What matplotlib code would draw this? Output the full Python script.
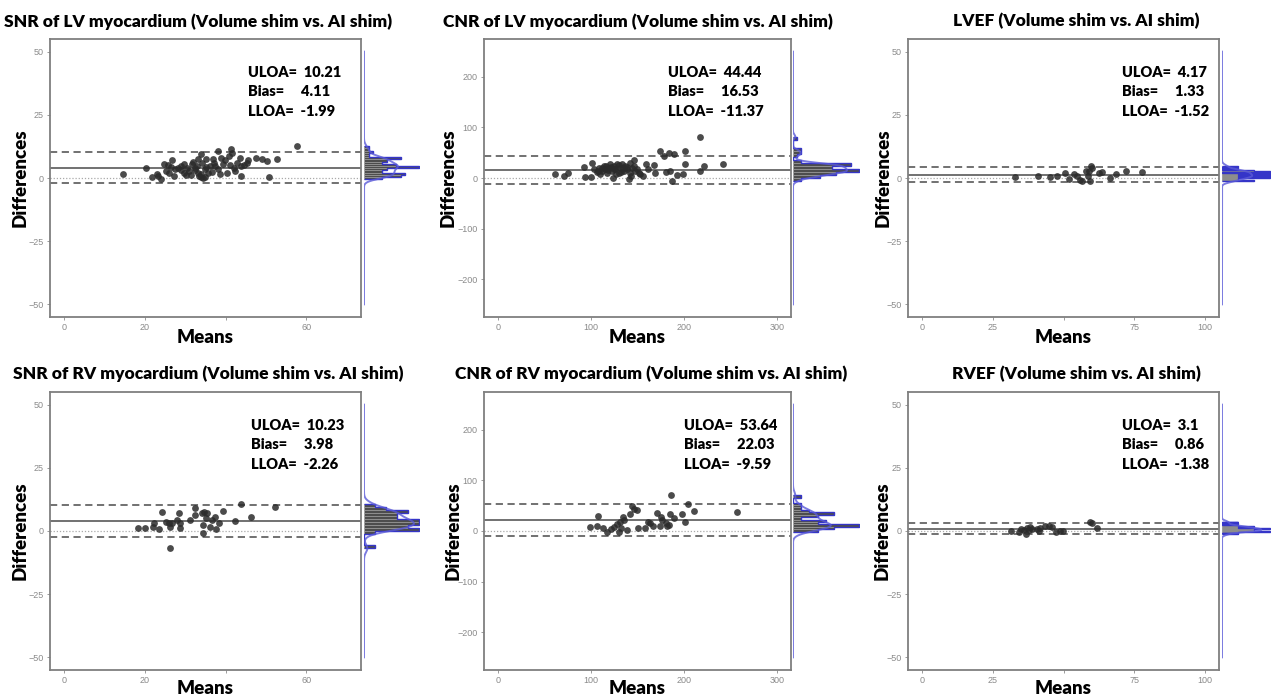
import numpy as np
import matplotlib.pyplot as plt

# ---- data (means, differences) ----
snr_lv_means = [14.5, 20.2, 21.8, 23.1, 23.3, 23.9, 24.8, 25.3, 25.8, 26.8, 26.0, 27.3, 28.1, 28.9,
                29.6, 30.2, 31.0, 31.6, 32.3, 33.0, 33.1, 33.5, 33.9, 34.2, 34.5, 34.9, 35.2, 35.6,
                36.0, 36.8, 37.3, 38.1, 38.5, 38.9, 39.3, 40.2, 40.8, 41.4, 41.5, 42.1, 42.3, 42.7,
                43.5, 43.8, 43.9, 45.2, 45.6, 47.4, 48.9, 50.2, 50.8, 52.7, 57.7,
                29.0, 30.5, 31.5, 32.5, 33.8, 34.0, 34.8, 35.0, 36.5, 37.0, 29.8, 27.5, 26.5, 32.0,
                33.2, 38.0, 39.8, 41.0, 44.5]
snr_lv_diffs = [1.4, 4.1, 0.2, 1.5, 0.8, -0.5, 5.6, 2.8, 5.1, 7.0, 2.1, 0.8, 4.1, 4.7,
                2.1, 1.2, 2.8, 5.4, 4.1, 4.7, 2.1, 0.8, 9.4, 6.1, 0.1, 3.4, 7.4, 2.1,
                4.7, 7.6, 4.7, 10.7, 1.7, 8.0, 5.4, 2.0, 8.7, 11.3, 10.0, 4.1, 2.8, 6.1,
                8.0, 0.8, 4.7, 5.8, 7.1, 7.9, 7.6, 6.6, 0.4, 7.6, 12.6,
                3.0, 4.0, 1.0, 3.0, 1.5, 0.2, 0.5, 4.5, 2.5, 6.0, 5.5, 3.5, 4.5, 6.5,
                7.5, 3.5, 7.2, 5.2, 5.0]

cnr_lv_means = [60.9, 70.6, 75.3, 92.8, 93.9, 100.4, 101.0, 103.6, 106.5, 108.2, 110.0, 111.8,
                113.6, 115.4, 117.2, 119.0, 120.8, 122.6, 123.7, 124.4, 126.2, 128.0, 129.7,
                131.5, 133.3, 135.1, 136.9, 138.7, 140.5, 141.6, 142.3, 144.1, 145.9, 147.7,
                149.5, 151.3, 153.0, 155.9, 159.5, 161.3, 167.4, 169.2, 173.8, 178.1, 181.0,
                183.5, 184.6, 187.1, 188.9, 192.5, 198.9, 200.7, 201.4, 216.8, 217.6, 221.1,
                241.9, 112.0, 118.0, 121.0, 125.0, 127.0, 130.0, 134.0, 139.0, 143.0, 146.0,
                132.0, 116.0, 108.0]
cnr_lv_diffs = [7.3, 4.0, 9.2, 21.8, 2.0, 2.0, 30.4, 17.2, 11.9, 20.5, 7.3, 13.9,
                23.8, 17.2, 10.6, 20.5, 27.1, 13.9, 0.7, 23.8, 17.2, 27.1, 10.6,
                20.5, 27.1, 13.9, 23.8, 17.2, -2.6, 29.0, 10.6, 20.5, 35.0, 13.9,
                17.2, 10.6, 7.3, 4.0, 28.4, 17.2, 25.7, 10.6, 53.5, 43.6, 11.9,
                48.8, 13.9, -5.9, 46.9, 5.3, 7.3, 28.4, 53.5, 81.8, 13.9, 23.8,
                28.4, 20.0, 15.0, 22.0, 18.0, 8.0, 25.0, 19.0, 22.0, 3.0, 24.0,
                12.0, 24.0, 14.0]

lvef_means = [32.9, 40.9, 45.2, 47.8, 50.7, 51.9, 53.8, 54.8, 55.9, 56.4, 57.8, 58.7, 59.3,
              59.6, 60.0, 59.0, 62.4, 63.5, 66.5, 68.4, 72.0, 77.8]
lvef_diffs = [0.3, 0.9, 0.3, 0.9, 1.9, -0.4, 1.6, 0.6, -0.7, -1.2, 2.6, 0.8, -1.2,
              4.7, 3.8, 2.9, 1.8, 2.5, 0.1, 1.4, 2.8, 2.4]

snr_rv_means = [18.4, 19.9, 22.0, 22.3, 23.6, 24.2, 25.3, 25.9, 26.3, 26.3, 26.8, 27.9, 28.5,
                28.6, 28.7, 31.2, 32.3, 32.5, 34.1, 34.3, 34.4, 34.7, 35.2, 35.4, 36.2, 36.6,
                37.4, 37.7, 38.4, 39.3, 42.4, 43.8, 46.3, 52.2]
snr_rv_diffs = [1.1, 1.1, 1.7, 3.3, 0.8, 7.4, 3.7, 3.0, -6.9, 1.7, 3.3, 4.4, 7.0,
                1.1, 3.0, 4.4, 9.0, 6.3, 7.0, 2.4, -0.7, 7.7, 5.0, 7.3, 1.7, 4.4,
                5.7, 0.8, 3.0, 8.1, 4.1, 10.7, 5.6, 9.4]

cnr_rv_means = [98.5, 106.7, 107.8, 113.2, 117.5, 121.8, 124.7, 127.6, 130.0, 130.8, 132.6,
                134.4, 135.5, 138.3, 141.6, 143.7, 146.2, 149.8, 150.6, 157.7, 161.7, 163.5,
                167.1, 170.7, 174.3, 175.7, 176.8, 180.4, 181.5, 184.0, 185.1, 186.5, 189.4,
                198.3, 201.2, 204.8, 210.2, 256.9]
cnr_rv_diffs = [8.5, 10.5, 29.5, 6.6, -1.3, 4.6, 8.5, 13.1, -1.3, 18.4, 6.6,
                28.2, 21.6, 2.0, 33.4, 49.8, 42.6, 41.3, 6.6, 6.6, 18.4, 15.1,
                10.5, 34.8, 10.5, 28.2, 21.6, 16.4, 10.5, 11.8, 33.4, 70.8, 24.9,
                32.8, 17.0, 53.1, 39.3, 36.7]

rvef_means = [31.5, 34.2, 34.8, 36.0, 36.8, 37.1, 37.7, 38.3, 38.9, 40.7, 41.3, 41.6, 43.6,
              44.8, 45.8, 47.2, 48.9, 49.8, 59.3, 60.1, 61.7]
rvef_diffs = [0.0, -0.3, 0.7, 0.4, -1.3, 1.1, 0.4, 1.5, 0.9, 0.7, 0.1, 1.1, 2.1,
              2.0, 1.7, -0.5, 0.0, 0.1, 3.7, 3.0, 1.1]

titles = ["SNR of LV myocardium (Volume shim vs. AI shim)",
          "CNR of LV myocardium (Volume shim vs. AI shim)",
          "LVEF (Volume shim vs. AI shim)",
          "SNR of RV myocardium (Volume shim vs. AI shim)",
          "CNR of RV myocardium (Volume shim vs. AI shim)",
          "RVEF (Volume shim vs. AI shim)"]
uloa = [10.21, 44.44, 4.17, 10.23, 53.64, 3.1]
bias = [4.11, 16.53, 1.33, 3.98, 22.03, 0.86]
lloa = [-1.99, -11.37, -1.52, -2.26, -9.59, -1.38]

snr_xticks, snr_xlabels = [0, 20, 40, 60], ["0", "20", "", "60"]
cnr_xticks, cnr_xlabels = [0, 100, 200, 300], ["0", "100", "200", "300"]
ef_xticks, ef_xlabels = [0, 25, 50, 75, 100], ["0", "25", "", "75", "100"]
snr_yticks = [-50, -25, 0, 25, 50]
cnr_yticks = [-200, -100, 0, 100, 200]

panels = [
    (snr_lv_means, snr_lv_diffs, 70, 50, snr_xticks, snr_xlabels, snr_yticks),
    (cnr_lv_means, cnr_lv_diffs, 300, 250, cnr_xticks, cnr_xlabels, cnr_yticks),
    (lvef_means, lvef_diffs, 100, 50, ef_xticks, ef_xlabels, snr_yticks),
    (snr_rv_means, snr_rv_diffs, 70, 50, snr_xticks, snr_xlabels, snr_yticks),
    (cnr_rv_means, cnr_rv_diffs, 300, 250, cnr_xticks, cnr_xlabels, cnr_yticks),
    (rvef_means, rvef_diffs, 100, 50, ef_xticks, ef_xlabels, snr_yticks),
]

# ---- layout in pixels ----
W, H = 1271, 698
cols = [(50, 361, 364, 420), (484, 791, 793, 860), (908, 1219, 1222, 1271)]
rows = [(39, 317), (392, 670)]
text_x = [0.637, 0.60, 0.687, 0.645, 0.652, 0.687]
ylab_x = [-0.068, -0.088, -0.054, -0.068, -0.072, -0.055]
title_x = [0.476, 0.501, 0.54, 0.508, 0.543, 0.54]
xlab_y = [-0.043, -0.043, -0.043, -0.036, -0.036, -0.036]

FONT = "Lato"
GRAY = "#8a8a8a"


def px_rect(x0, x1, y0, y1):
    return [x0 / W, 1 - y1 / H, (x1 - x0) / W, (y1 - y0) / H]


def kde(values, grid):
    v = np.asarray(values)
    sd = v.std(ddof=1)
    iqr = np.subtract(*np.percentile(v, [75, 25]))
    bw = 0.9 * min(sd, iqr / 1.34) * len(v) ** -0.2
    z = (grid[:, None] - v[None, :]) / bw
    return np.exp(-0.5 * z ** 2).sum(axis=1) / (len(v) * bw * np.sqrt(2 * np.pi))


fig = plt.figure(figsize=(W / 100, H / 100), dpi=100)

for i, (means, diffs, xmax, ymax, xt, xl, yt) in enumerate(panels):
    x0, x1, m0, m1 = cols[i % 3]
    y0, y1 = rows[i // 3]
    ax = fig.add_axes(px_rect(x0, x1, y0, y1))
    ylim = (-ymax * 1.1, ymax * 1.1)
    xlim = (-xmax * 0.05, xmax * 1.05)

    ax.axhline(0, color="#aaaaaa", lw=0.9, ls=(0, (1, 1.5)))
    ax.axhline(bias[i], color="#666666", lw=1.3)
    ax.axhline(uloa[i], color="#666666", lw=1.3, ls=(0, (4, 2.5)))
    ax.axhline(lloa[i], color="#666666", lw=1.3, ls=(0, (4, 2.5)))
    ax.scatter(means, diffs, s=24, color="#2b2b2b", alpha=0.85, linewidths=0, zorder=3)

    ax.set_xlim(xlim)
    ax.set_ylim(ylim)
    ax.set_xticks(xt)
    ax.set_xticklabels(xl)
    ax.set_yticks(yt)
    ax.tick_params(colors=GRAY, labelsize=6.5, length=2.5, width=0.6, pad=2)
    for lab in ax.get_xticklabels() + ax.get_yticklabels():
        lab.set_fontfamily("Liberation Sans")
    for sp in ax.spines.values():
        sp.set_color("#7f7f7f")
        sp.set_linewidth(1.3)

    ax.set_title(titles[i], fontsize=12.5, fontweight="heavy", family=FONT, pad=9)
    ax.title.set_x(title_x[i])
    ax.set_ylabel("Differences", fontsize=13.5, fontweight="heavy", family=FONT)
    ax.yaxis.set_label_coords(ylab_x[i], 0.5)
    ax.set_xlabel("Means", fontsize=13.5, fontweight="heavy", family=FONT)
    ax.xaxis.set_label_coords(0.5, xlab_y[i])

    stats_txt = [f"ULOA=  {uloa[i]}", f"Bias=     {bias[i]}", f"LLOA=  {lloa[i]}"]
    for k, s in enumerate(stats_txt):
        ax.text(text_x[i], 0.88 - 0.07 * k, s, transform=ax.transAxes, fontsize=10.5,
                fontweight="heavy", family=FONT, va="center", ha="left")

    # marginal histogram + density of the differences
    mx = fig.add_axes(px_rect(m0, m1, y0, y1))
    counts, edges, _ = mx.hist(diffs, bins=15, density=True, orientation="horizontal",
                               color="#4d4d4d", edgecolor="#a0a0a0", linewidth=0.4)
    mx.hist(diffs, bins=edges, density=True, orientation="horizontal",
            histtype="step", color="#3535c8", linewidth=1.0)
    grid = np.linspace(-ymax, ymax, 600)
    dens = kde(diffs, grid)
    mx.plot(dens, grid, color="#5a5ad8", lw=1.4, alpha=0.8)
    mx.set_ylim(ylim)
    mx.set_xlim(0, max(counts.max(), dens.max()) * 1.02)
    mx.axis("off")

fig.savefig("out.png", dpi=100)
